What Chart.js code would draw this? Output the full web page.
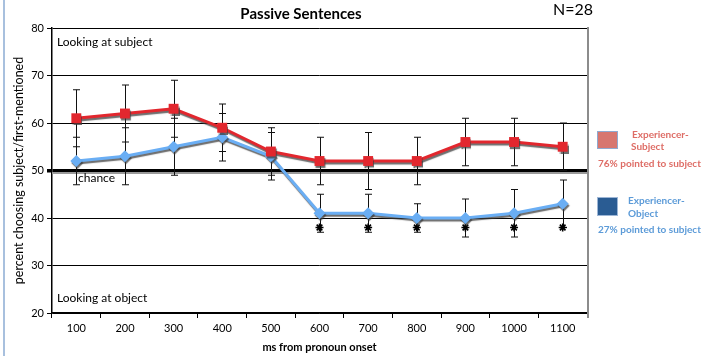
<!DOCTYPE html>
<html>
<head>
<meta charset="utf-8">
<script src="https://cdn.jsdelivr.net/npm/chart.js@4"></script>
<style>
  html, body { margin: 0; padding: 0; background: #fff; }
  #wrap { position: relative; width: 714px; height: 356px; }
</style>
</head>
<body>
<div id="wrap"><canvas id="myChart" width="714" height="356"></canvas></div>
<script>
// data
const times = ['100', '200', '300', '400', '500', '600', '700', '800', '900', '1000', '1100'];
const expSubject = [61, 62, 63, 59, 54, 52, 52, 52, 56, 56, 55];
const expSubjectErr = [6, 6, 6, 5, 5, 5, 6, 5, 5, 5, 5];
const expObject = [52, 53, 55, 57, 53, 41, 41, 40, 40, 41, 43];
const expObjectErr = [5, 6, 6, 5, 5, 4, 4, 3, 4, 5, 5];
const significant = [null, null, null, null, null, 38, 38, 38, 38, 38, 38];
const yTicks = [20, 30, 40, 50, 60, 70, 80];
const chanceLevel = 50;

const redLine = '#E2272E';
const blueLine = '#6AAEF4';
const fontName = 'Lato, "Open Sans", sans-serif';

// shadow under the two lines
const shadowPlugin = {
    id: 'shadow',
    beforeDatasetDraw(chart, args) {
        if (args.index > 1) return;
        const ctx = chart.ctx;
        ctx.save();
        ctx.shadowColor = 'rgba(60,60,60,0.75)';
        ctx.shadowOffsetX = 1;
        ctx.shadowOffsetY = 2;
        ctx.shadowBlur = 1;
    },
    afterDatasetDraw(chart, args) {
        if (args.index > 1) return;
        chart.ctx.restore();
    }
};

// error bars + chance line shadow + right border
const errorBarPlugin = {
    id: 'errorBars',
    beforeDatasetsDraw(chart) {
        const ctx = chart.ctx;
        const x = chart.scales.x;
        const y = chart.scales.y;
        const area = chart.chartArea;
        ctx.save();
        // gray under the chance line
        const cy = y.getPixelForValue(chanceLevel);
        ctx.strokeStyle = '#9a9a9a';
        ctx.lineWidth = 2;
        ctx.beginPath();
        ctx.moveTo(area.left, cy + 2.5);
        ctx.lineTo(area.right, cy + 2.5);
        ctx.stroke();
        // right border
        ctx.strokeStyle = '#8c8c8c';
        ctx.lineWidth = 2;
        ctx.beginPath();
        ctx.moveTo(area.right + 1, area.top - 1);
        ctx.lineTo(area.right + 1, area.bottom + 5);
        ctx.stroke();

        ctx.strokeStyle = '#111';
        ctx.lineWidth = 1;
        const sets = [[expSubject, expSubjectErr], [expObject, expObjectErr]];
        sets.forEach(([vals, errs]) => {
            vals.forEach((v, i) => {
                const px = Math.round(x.getPixelForValue(i)) + 0.5;
                const top = y.getPixelForValue(v + errs[i]);
                const bot = y.getPixelForValue(v - errs[i]);
                ctx.beginPath();
                ctx.moveTo(px, top);
                ctx.lineTo(px, bot);
                ctx.moveTo(px - 3.5, top);
                ctx.lineTo(px + 3.5, top);
                ctx.moveTo(px - 3.5, bot);
                ctx.lineTo(px + 3.5, bot);
                ctx.stroke();
            });
        });
        ctx.restore();
    }
};

// text: title, labels, legend
const textPlugin = {
    id: 'texts',
    afterDraw(chart) {
        const ctx = chart.ctx;
        const area = chart.chartArea;
        const y = chart.scales.y;
        ctx.save();
        // left frame line
        ctx.strokeStyle = '#A8C0DE';
        ctx.lineWidth = 2;
        ctx.beginPath();
        ctx.moveTo(4, 0);
        ctx.lineTo(4, 356);
        ctx.stroke();

        ctx.textBaseline = 'middle';
        ctx.fillStyle = '#000';
        ctx.textAlign = 'center';
        ctx.font = 'bold 15px ' + fontName;
        ctx.fillText('Passive Sentences', 301, 14);
        ctx.font = '16px ' + fontName;
        ctx.fillText('N=28', 573, 10);

        ctx.textAlign = 'left';
        ctx.font = '12px ' + fontName;
        ctx.fillText('Looking at subject', area.left + 5, 42);
        ctx.fillText('Looking at object', area.left + 5, 298);
        ctx.fillText('chance', area.left + 26, y.getPixelForValue(chanceLevel) + 8);

        // legend
        ctx.fillStyle = '#D7766F';
        ctx.fillRect(597, 131, 21, 18);
        ctx.strokeStyle = '#8FA9CF';
        ctx.lineWidth = 1;
        ctx.strokeRect(597.5, 131.5, 20, 17);
        ctx.fillStyle = '#2A5C93';
        ctx.fillRect(597, 197, 21, 19);
        ctx.strokeStyle = '#9DB6D6';
        ctx.strokeRect(597.5, 197.5, 20, 18);

        ctx.font = 'bold 10px ' + fontName;
        ctx.fillStyle = '#DE6D66';
        ctx.textAlign = 'left';
        ctx.fillText('Experiencer-', 632, 135);
        ctx.fillText('Subject', 631, 147);
        ctx.fillText('76% pointed to subject', 598, 164);
        ctx.fillStyle = '#5C9BD8';
        ctx.fillText('Experiencer-', 628, 201);
        ctx.fillText('Object', 628, 214);
        ctx.fillText('27% pointed to subject', 598, 230);
        ctx.restore();
    }
};

const ctx = document.getElementById('myChart').getContext('2d');

const chart = new Chart(ctx, {
    type: 'line',
    data: {
        labels: times,
        datasets: [{
            label: 'Experiencer-Subject',
            data: expSubject,
            borderColor: redLine,
            backgroundColor: redLine,
            borderWidth: 3,
            pointStyle: 'rect',
            pointRadius: 7,
            pointBorderWidth: 0,
            tension: 0
        }, {
            label: 'Experiencer-Object',
            data: expObject,
            borderColor: blueLine,
            backgroundColor: blueLine,
            borderWidth: 3,
            pointStyle: 'rectRot',
            pointRadius: 6,
            pointBorderWidth: 0,
            tension: 0
        }, {
            label: 'significant',
            data: significant,
            showLine: false,
            borderColor: '#000',
            backgroundColor: '#000',
            pointStyle: 'star',
            pointRadius: 4,
            pointBorderWidth: 1.6
        }]
    },
    options: {
        responsive: false,
        animation: false,
        layout: {
            padding: { top: 28, right: 127, left: 0, bottom: 0 }
        },
        plugins: {
            legend: { display: false },
            tooltip: { enabled: false }
        },
        scales: {
            x: {
                type: 'category',
                offset: true,
                grid: {
                    offset: true,
                    drawOnChartArea: false,
                    drawTicks: true,
                    tickLength: 5,
                    color: '#000'
                },
                border: { color: '#000', width: 1.5 },
                ticks: {
                    color: '#000',
                    padding: 4,
                    maxRotation: 0,
                    font: { family: fontName, size: 11 }
                },
                title: {
                    display: true,
                    text: 'ms from pronoun onset',
                    color: '#000',
                    font: { family: fontName, size: 11, weight: 'bold' },
                    padding: { top: 2, bottom: 2 }
                },
                afterFit(scale) { scale.height = 43; }
            },
            y: {
                min: 20,
                max: 80,
                afterBuildTicks(scale) {
                    scale.ticks = yTicks.map(v => ({ value: v }));
                },
                grid: {
                    color: '#000',
                    lineWidth: c => (c.tick && c.tick.value === chanceLevel ? 3.5 : 1),
                    tickLength: 5
                },
                border: { color: '#000', width: 1.5 },
                ticks: {
                    color: '#000',
                    padding: 3,
                    font: { family: fontName, size: 11 }
                },
                title: {
                    display: true,
                    text: 'percent choosing subject/first-mentioned',
                    color: '#000',
                    font: { family: fontName, size: 12.5 },
                    padding: { top: 11, bottom: 0 }
                },
                afterFit(scale) { scale.width = 52; }
            }
        }
    },
    plugins: [shadowPlugin, errorBarPlugin, textPlugin]
});
</script>
</body>
</html>
